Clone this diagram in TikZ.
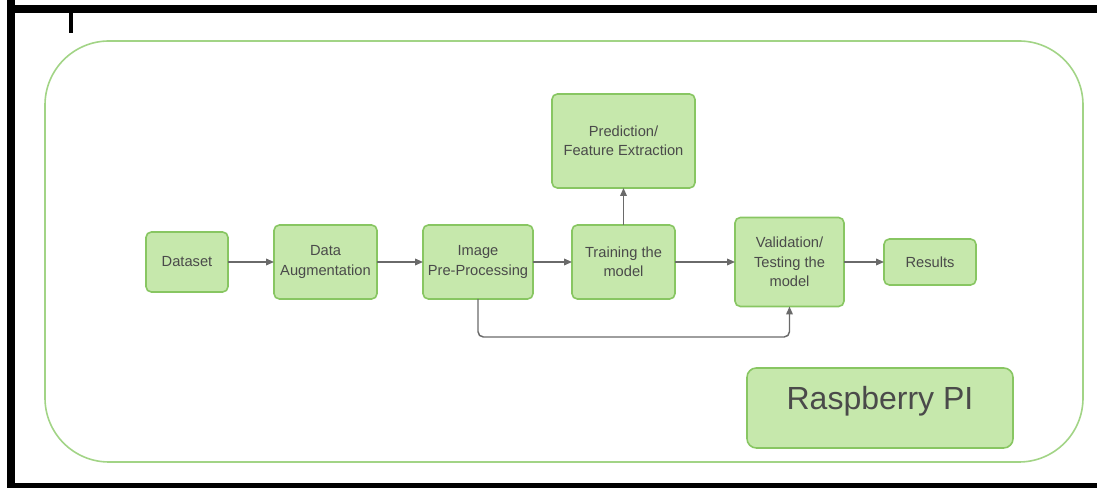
\documentclass[tikz,border=0pt]{standalone}
\usepackage{fontspec}
\setmainfont{Liberation Sans}
\usetikzlibrary{arrows.meta, positioning}

\definecolor{boxfill}{HTML}{C6E8AC}
\definecolor{boxline}{HTML}{88C662}
\definecolor{frameline}{HTML}{A2D486}
\definecolor{linkgray}{HTML}{6A6A6A}
\definecolor{textgray}{HTML}{4A4A4A}

\begin{document}
\begin{tikzpicture}[
  x=0.75pt, y=0.75pt,
  every node/.style={draw=boxline, fill=boxfill, line width=1.2pt, rectangle, rounded corners=4pt,
    align=center, text=textgray, inner sep=0pt, outer sep=0pt, font=\fontsize{11}{14.5}\selectfont},
  arrow/.style={-{Triangle[length=6pt, width=5pt]}, draw=linkgray, line width=1.1pt}
]
\useasboundingbox (0,0) rectangle (1097,488);

% Frame
\draw[black, line width=6pt] (7,479) -- (1097,479);
\draw[black, line width=6pt] (11,488) -- (11,0);
\draw[black, line width=3.75pt] (7,2.5) -- (1097,2.5);
\draw[black, line width=3pt] (70.5,475) -- (70.5,455);
\draw[frameline, line width=1.2pt, rounded corners=48pt] (45,447) rectangle (1083,26);

% Steps
\node (dataset) [minimum width=61.5pt, minimum height=45pt] at (187,226) {Dataset};
\node (augment) [minimum width=77.25pt, minimum height=55.5pt, right=34.5pt of dataset] {Data\\Augmentation};
\node (preproc) [minimum width=82.5pt, minimum height=55.5pt, right=34.5pt of augment] {Image\\Pre-Processing};
\node (training) [minimum width=77.25pt, minimum height=55.5pt, right=29.25pt of preproc] {Training the\\model};
\node (predict) [minimum width=107.25pt, minimum height=70.5pt, above=27.75pt of training] {Prediction/\\Feature Extraction};
\node (validate) [minimum width=81.75pt, minimum height=66.75pt, right=45pt of training] {Validation/\\Testing the\\model};
\node (results) [minimum width=69pt, minimum height=34.5pt, right=30pt of validate] {Results};
\node (raspi) [minimum width=199.5pt, minimum height=60pt, text height=17.2pt, text depth=15pt,
  rounded corners=7pt, font=\fontsize{24}{28}\selectfont] at (880,80) {Raspberry PI};

% Arrows
\draw[arrow] (dataset) -- (augment);
\draw[arrow] (augment) -- (preproc);
\draw[arrow] (preproc) -- (training);
\draw[arrow] (training) -- (predict);
\draw[arrow] (training) -- (validate);
\draw[arrow] (validate) -- (results);
\draw[arrow, rounded corners=4pt] (preproc.south) -- ++(0,-38) -| (validate.south);

\end{tikzpicture}
\end{document}
